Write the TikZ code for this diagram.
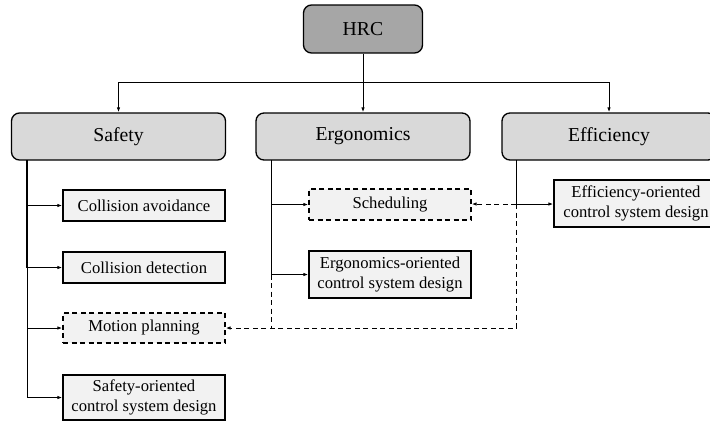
\documentclass[tikz,border=0pt]{standalone}
\usepackage{fontspec}
\setmainfont{Liberation Serif}
\usetikzlibrary{arrows.meta}

\definecolor{rootgray}{RGB}{166,166,166}
\definecolor{maingray}{RGB}{217,217,217}
\definecolor{leafgray}{RGB}{242,242,242}

\tikzset{
  root/.style={draw, line width=1.3bp, rounded corners=8bp, fill=rootgray,
    minimum width=119bp, minimum height=48bp, inner sep=0pt,
    font=\fontsize{19.8}{23}\selectfont},
  branch/.style={root, fill=maingray, minimum width=214bp, minimum height=47bp},
  leaf/.style={draw, line width=1.3bp, fill=leafgray, minimum width=162bp,
    minimum height=31bp, inner sep=0pt, align=center,
    font=\fontsize{16.7}{20}\selectfont},
  leafdash/.style={leaf, dash pattern=on 5bp off 3.5bp},
  link/.style={line width=1bp, -{Latex[length=5bp,width=3.5bp]}},
  dashlink/.style={link, dash pattern=on 5bp off 3.5bp},
}

\begin{document}
\begin{tikzpicture}[x=1bp, y=-1bp]
        % Page frame, the right side is cut off
        \useasboundingbox (0,0) rectangle (710,423);
        \clip (0,0) rectangle (710,423);

        % Top level and the three aspects
        \node[root] (hrc) at (363,29) {HRC};
        \node[branch] (safety) at (118.5,136.5) {Safety};
        \node[branch] (ergo) at (363,136.5) {Ergonomics};
        \node[branch] (effic) at (609,136.5) {Efficiency};

        % Sub topics
        \node[leaf] (cavoid) at (144,205.5) {Collision avoidance};
        \node[leaf] (cdetect) at (144,267.5) {Collision detection};
        \node[leafdash, minimum height=30bp] (mplan) at (144,328) {Motion planning};
        \node[leaf, minimum height=45bp] (safectl) at (144,397.5) {Safety-oriented\\control system design};
        \node[leafdash] (sched) at (390,204.5) {Scheduling};
        \node[leaf, minimum height=47bp] (ergoctl) at (390,274.5) {Ergonomics-oriented\\control system design};
        \node[leaf, minimum width=164bp, minimum height=47bp] (efficctl) at (636,203.5) {Efficiency-oriented\\control system design};

        % Branch points
        \coordinate (top) at (363,82);
        \coordinate (sv) at (27,160);
        \coordinate (ev) at (271,160);
        \coordinate (fv) at (516,160);
        \coordinate (fj) at (516,204);
        \coordinate (low) at (516,328);

        % Root to aspects
        \draw[link] (hrc) -- (ergo);
        \draw[link] (top) -| (safety);
        \draw[link] (top) -| (effic);

        % Safety branch
        \draw[line width=1.3bp] (sv) -- (sv |- cdetect.west);
        \draw[line width=1bp] (sv |- cdetect.west) -- (sv |- safectl.west);
        \draw[link] (sv |- cavoid.west) -- (cavoid.west);
        \draw[link] (sv |- cdetect.west) -- (cdetect.west);
        \draw[link] (sv |- mplan.west) -- (mplan.west);
        \draw[link] (sv |- safectl.west) -- (safectl.west);

        % Ergonomics branch
        \draw[line width=1bp] (ev) -- (ev |- ergoctl.west);
        \draw[link] (ev |- sched.west) -- (sched.west);
        \draw[link] (ev |- ergoctl.west) -- (ergoctl.west);
        \draw[line width=1bp, dash pattern=on 5bp off 3.5bp] (ev |- ergoctl.west) -- (ev |- low);

        % Efficiency branch
        \draw[line width=1bp] (fv) -- (fj);
        \draw[link] (fj) -- (efficctl.west |- fj);
        \draw[dashlink] (fj) -- (sched.east |- fj);
        \draw[dashlink] (fj) -- (low) -- (mplan.east);
\end{tikzpicture}
\end{document}
